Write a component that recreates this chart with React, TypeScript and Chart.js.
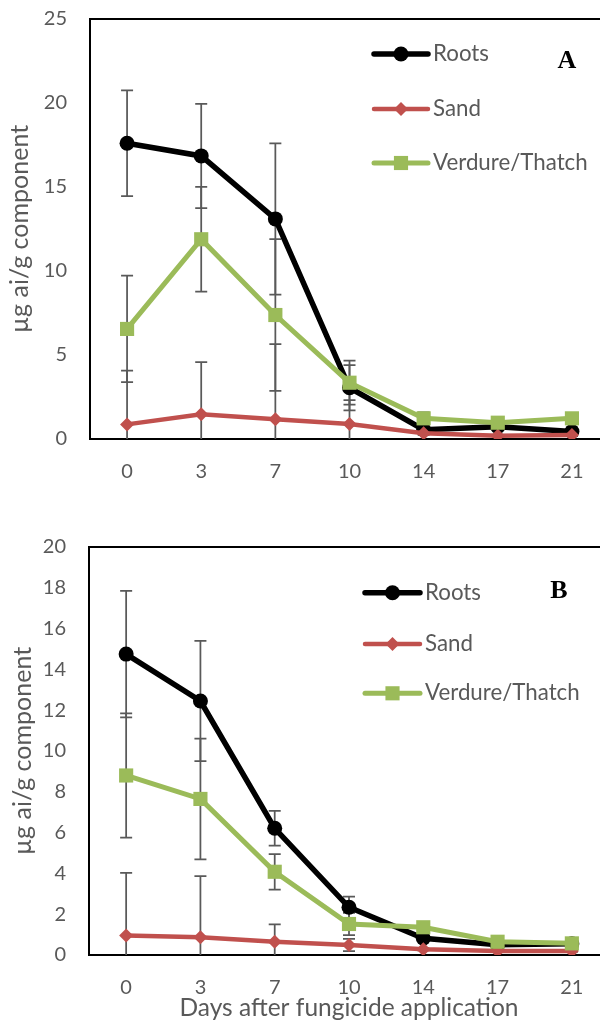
import React, { useEffect, useRef } from 'react';
import { Chart, registerables } from 'chart.js';

Chart.register(...registerables);

// ---- data ----
const days = ['0', '3', '7', '10', '14', '17', '21'];
const seriesNames = ['Roots', 'Sand', 'Verdure/Thatch'];

const rootsA = [17.6, 16.85, 13.1, 3.05, 0.55, 0.73, 0.45];
const rootsAErr = [3.15, 3.1, 4.5, 1.35, 0.2, 0.1, 0.1];
const sandA = [0.87, 1.47, 1.17, 0.89, 0.34, 0.2, 0.24];
const sandAErr = [3.2, 3.1, 4.48, 1.43, 0.1, 0.05, 0.05];
const verdureA = [6.55, 11.89, 7.38, 3.35, 1.23, 0.97, 1.23];
const verdureAErr = [3.17, 3.12, 4.52, 1.31, 0.35, 0.1, 0.1];

const rootsB = [14.75, 12.45, 6.21, 2.34, 0.82, 0.5, 0.55];
const rootsBErr = [3.1, 2.95, 0.85, 0.52, 0.1, 0.05, 0.05];
const sandB = [0.95, 0.87, 0.65, 0.49, 0.28, 0.2, 0.2];
const sandBErr = [3.08, 3.0, 0.85, 0.3, 0.05, 0.05, 0.05];
const verdureB = [8.8, 7.65, 4.08, 1.52, 1.36, 0.65, 0.57];
const verdureBErr = [3.05, 2.96, 0.87, 0.54, 0.1, 0.1, 0.1];

const yMaxA = 25;
const yStepA = 5;
const yMaxB = 20;
const yStepB = 2;

const yTitle = 'µg ai/g component';
const xTitle = 'Days after fungicide application';

// ---- styles ----
const FONT = 'Lato';
const GRAY = '#595959';
const COLORS = ['#000000', '#C0504D', '#9BBB59'];
const LINE_W = [5.5, 4.5, 5];
const POINT_STYLE = ['circle', 'rectRot', 'rect'];
const POINT_R = [7.5, 7, 10];
const ORDER = [2, 1, 0];

const CANVAS_W = 620;

const panelA = {
  series: [rootsA, sandA, verdureA],
  errors: [rootsAErr, sandAErr, verdureAErr],
  yMax: yMaxA,
  yStep: yStepA,
  letter: 'A',
  canvasH: 500,
  padTop: 19,
  xAxisH: 61,
  yAxisW: 90,
  legendX1: 374,
  legendX2: 428,
  legendYs: [54, 109, 163],
  letterX: 567,
  letterY: 61,
  showXTitle: false,
  yTitlePad: 4.5,
};

const panelB = {
  series: [rootsB, sandB, verdureB],
  errors: [rootsBErr, sandBErr, verdureBErr],
  yMax: yMaxB,
  yStep: yStepB,
  letter: 'B',
  canvasH: 524,
  padTop: 47,
  xAxisH: 69,
  yAxisW: 89,
  legendX1: 365,
  legendX2: 420,
  legendYs: [92.7, 144, 193.3],
  letterX: 559,
  letterY: 91,
  showXTitle: true,
  yTitlePad: 7.5,
};

function drawMarker(ctx: CanvasRenderingContext2D, style: string, x: number, y: number, r: number, color: string) {
  ctx.save();
  ctx.fillStyle = color;
  ctx.beginPath();
  if (style === 'circle') {
    ctx.arc(x, y, r, 0, Math.PI * 2);
  } else if (style === 'rectRot') {
    ctx.moveTo(x, y - r);
    ctx.lineTo(x + r, y);
    ctx.lineTo(x, y + r);
    ctx.lineTo(x - r, y);
    ctx.closePath();
  } else {
    const h = r * Math.SQRT1_2;
    ctx.rect(x - h, y - h, 2 * h, 2 * h);
  }
  ctx.fill();
  ctx.restore();
}

function buildConfig(cfg: any): any {
  const errorBars = {
    id: 'errorBars',
    beforeDatasetsDraw(chart: any) {
      const { ctx, chartArea, scales } = chart;
      const xs = scales.x;
      const ys = scales.y;
      ctx.save();
      ctx.beginPath();
      ctx.rect(chartArea.left, chartArea.top, chartArea.right - chartArea.left, chartArea.bottom - chartArea.top);
      ctx.clip();
      ctx.strokeStyle = GRAY;
      ctx.lineWidth = 1.75;
      cfg.series.forEach((vals: number[], si: number) => {
        const errs = cfg.errors[si];
        vals.forEach((v: number, i: number) => {
          const x = xs.getPixelForValue(i);
          const yt = ys.getPixelForValue(v + errs[i]);
          const yb = ys.getPixelForValue(v - errs[i]);
          ctx.beginPath();
          ctx.moveTo(x, yt);
          ctx.lineTo(x, yb);
          ctx.moveTo(x - 6, yt);
          ctx.lineTo(x + 6, yt);
          ctx.moveTo(x - 6, yb);
          ctx.lineTo(x + 6, yb);
          ctx.stroke();
        });
      });
      ctx.restore();
    },
  };

  const frame = {
    id: 'frame',
    afterDraw(chart: any) {
      const { ctx, chartArea } = chart;
      ctx.save();
      ctx.strokeStyle = '#000';
      ctx.lineWidth = 2;
      ctx.beginPath();
      ctx.moveTo(chartArea.left - 1, chartArea.top);
      ctx.lineTo(chartArea.right, chartArea.top);
      ctx.lineTo(chartArea.right, chartArea.bottom);
      ctx.stroke();
      ctx.restore();
    },
  };

  const legendLetter = {
    id: 'legendLetter',
    afterDraw(chart: any) {
      const { ctx } = chart;
      ctx.save();
      seriesNames.forEach((name, i) => {
        const y = cfg.legendYs[i];
        ctx.strokeStyle = COLORS[i];
        ctx.lineWidth = LINE_W[i];
        ctx.lineCap = 'round';
        ctx.beginPath();
        ctx.moveTo(cfg.legendX1, y);
        ctx.lineTo(cfg.legendX2, y);
        ctx.stroke();
        drawMarker(ctx, POINT_STYLE[i], (cfg.legendX1 + cfg.legendX2) / 2, y, POINT_R[i], COLORS[i]);
        ctx.fillStyle = GRAY;
        ctx.font = `22.3px ${FONT}`;
        ctx.textAlign = 'left';
        ctx.textBaseline = 'middle';
        ctx.fillText(name, cfg.legendX2 + 5, y);
      });
      ctx.fillStyle = '#000';
      ctx.font = `bold 26px "Liberation Serif"`;
      ctx.textAlign = 'center';
      ctx.textBaseline = 'middle';
      ctx.fillText(cfg.letter, cfg.letterX, cfg.letterY);
      ctx.restore();
    },
  };

  return {
    type: 'line',
    data: {
      labels: days,
      datasets: seriesNames.map((name, i) => ({
        label: name,
        data: cfg.series[i],
        borderColor: COLORS[i],
        backgroundColor: COLORS[i],
        borderWidth: LINE_W[i],
        pointStyle: POINT_STYLE[i],
        pointRadius: POINT_R[i],
        pointBorderWidth: 0,
        pointBackgroundColor: COLORS[i],
        pointBorderColor: COLORS[i],
        tension: 0,
        fill: false,
        order: ORDER[i],
      })),
    },
    options: {
      animation: false,
      responsive: false,
      events: [],
      layout: { padding: { top: cfg.padTop, right: 11, left: 0, bottom: 0 } },
      plugins: { legend: { display: false }, tooltip: { enabled: false }, title: { display: false } },
      scales: {
        x: {
          type: 'category',
          offset: true,
          grid: { display: false, drawTicks: false },
          border: { display: true, color: '#000', width: 2 },
          ticks: { color: GRAY, font: { family: FONT, size: 20 }, padding: 21, maxRotation: 0, autoSkip: false },
          title: {
            display: cfg.showXTitle,
            text: xTitle,
            color: GRAY,
            font: { family: FONT, size: 24.5 },
            padding: { top: 0, bottom: 1 },
          },
          afterFit: (s: any) => {
            s.height = cfg.xAxisH;
            s.paddingLeft = 0;
            s.paddingRight = 0;
          },
        },
        y: {
          min: 0,
          max: cfg.yMax,
          grid: { display: false, drawTicks: false },
          border: { display: true, color: '#000', width: 2 },
          ticks: { stepSize: cfg.yStep, color: GRAY, font: { family: FONT, size: 20 }, padding: 23 },
          title: {
            display: true,
            text: yTitle,
            color: GRAY,
            font: { family: FONT, size: 25 },
            padding: { top: cfg.yTitlePad, bottom: 0 },
          },
          afterFit: (s: any) => {
            s.width = cfg.yAxisW;
            s.paddingTop = 0;
            s.paddingBottom = 0;
          },
        },
      },
    },
    plugins: [errorBars, frame, legendLetter],
  };
}

function Panel({ cfg, top }: { cfg: any; top: number }) {
  const ref = useRef<HTMLCanvasElement | null>(null);
  useEffect(() => {
    let chart: any = null;
    let cancelled = false;
    const make = () => {
      if (cancelled || !ref.current) return;
      chart = new Chart(ref.current, buildConfig(cfg));
    };
    const fontsApi = (document as any).fonts;
    if (fontsApi && fontsApi.load) {
      Promise.all([
        fontsApi.load(`20px ${FONT}`),
        fontsApi.load(`bold 26px "Liberation Serif"`),
      ]).then(make, make);
    } else {
      make();
    }
    return () => {
      cancelled = true;
      if (chart) chart.destroy();
    };
  }, [cfg]);
  return (
    <canvas
      ref={ref}
      width={CANVAS_W}
      height={cfg.canvasH}
      style={{ position: 'absolute', left: 0, top, width: CANVAS_W, height: cfg.canvasH }}
    />
  );
}

export default function App() {
  return (
    <div
      style={{
        position: 'absolute',
        left: 0,
        top: 0,
        width: 600,
        height: 1024,
        overflow: 'hidden',
        background: '#ffffff',
      }}
    >
      <Panel cfg={panelA} top={0} />
      <Panel cfg={panelB} top={500} />
    </div>
  );
}
